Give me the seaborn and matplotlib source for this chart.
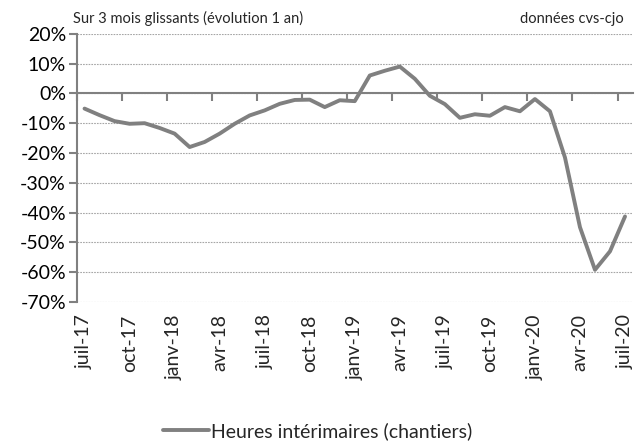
import matplotlib
matplotlib.use("Agg")
import matplotlib.pyplot as plt
import seaborn as sns
import numpy as np
import pandas as pd

# monthly points, juil-17 .. juil-20 (evolution over 1 year, %)
months = ["juil-17", "août-17", "sept-17", "oct-17", "nov-17", "déc-17",
          "janv-18", "févr-18", "mars-18", "avr-18", "mai-18", "juin-18",
          "juil-18", "août-18", "sept-18", "oct-18", "nov-18", "déc-18",
          "janv-19", "févr-19", "mars-19", "avr-19", "mai-19", "juin-19",
          "juil-19", "août-19", "sept-19", "oct-19", "nov-19", "déc-19",
          "janv-20", "févr-20", "mars-20", "avr-20", "mai-20", "juin-20",
          "juil-20"]
heures = [-5.1, -7.3, -9.3, -10.2, -10.0, -11.6, -13.5, -18.0, -16.3, -13.5,
          -10.2, -7.4, -5.7, -3.5, -2.2, -2.1, -4.6, -2.3, -2.6, 6.0,
          7.6, 9.0, 4.9, -0.8, -3.6, -8.2, -7.0, -7.5, -4.6, -6.0,
          -1.9, -6.0, -21.5, -44.9, -59.2, -53.0, -41.3]
yticks = list(range(-70, 21, 10))
serie_name = "Heures intérimaires (chantiers)"

sns.set_theme(style="white")
plt.rcParams['font.family'] = ['Lato', 'DejaVu Sans']

df = pd.DataFrame({"pos": np.arange(len(months)), "val": heures})

fig = plt.figure(figsize=(6.35, 4.47), dpi=100)
ax = fig.add_axes([0.1213, 0.3244, 0.8748, 0.6]) 

grey = "#808080"
sns.lineplot(data=df, x="pos", y="val", ax=ax, color=grey, linewidth=2.8,
             label=serie_name, legend=False)

ax.set_ylim(-70, 20)
ax.set_xlim(-0.5, len(months) - 0.5)
ax.set_yticks(yticks)
ax.set_yticklabels([f"{v}%" for v in yticks], fontsize=14)
for v in yticks:
    ax.axhline(v, color="#a6a6a6", linestyle=(0, (1.5, 1)), linewidth=0.8, zorder=0)

ax.set_xlabel("")
ax.set_ylabel("")
ax.spines["top"].set_visible(False)
ax.spines["right"].set_visible(False)
ax.spines["left"].set_color(grey)
ax.spines["left"].set_linewidth(1.5)
ax.spines["bottom"].set_position(("data", 0))
ax.spines["bottom"].set_color(grey)
ax.spines["bottom"].set_linewidth(1.5)
ax.tick_params(axis="y", direction="out", length=6, width=1.5, color=grey,
               left=True, pad=2, labelcolor="black")

# tick marks on the zero line, between categories every 3 months
ax.set_xticks(np.arange(-0.5, len(months), 3))
ax.tick_params(axis="x", direction="out", length=6, width=1.5, color=grey,
               bottom=True, labelbottom=False)

# labels at the bottom
sec = ax.secondary_xaxis("bottom")
lab_pos = list(range(0, len(months), 3))
sec.set_xticks(lab_pos, [months[i] for i in lab_pos], rotation=90, fontsize=14)
sec.tick_params(length=0, pad=9)
sec.spines["bottom"].set_visible(False)

fig.text(0.115, 0.958, "Sur 3 mois glissants (évolution 1 an)", fontsize=10.5, va="center")
fig.text(0.983, 0.958, "données cvs-cjo", fontsize=10.5, va="center", ha="right")

handles, labels = ax.get_legend_handles_labels()
fig.legend(handles, labels, loc="center", bbox_to_anchor=(0.5, 0.036), frameon=False,
           fontsize=14, handlelength=2.4, handletextpad=0.1)

plt.savefig("out.png", dpi=100)
